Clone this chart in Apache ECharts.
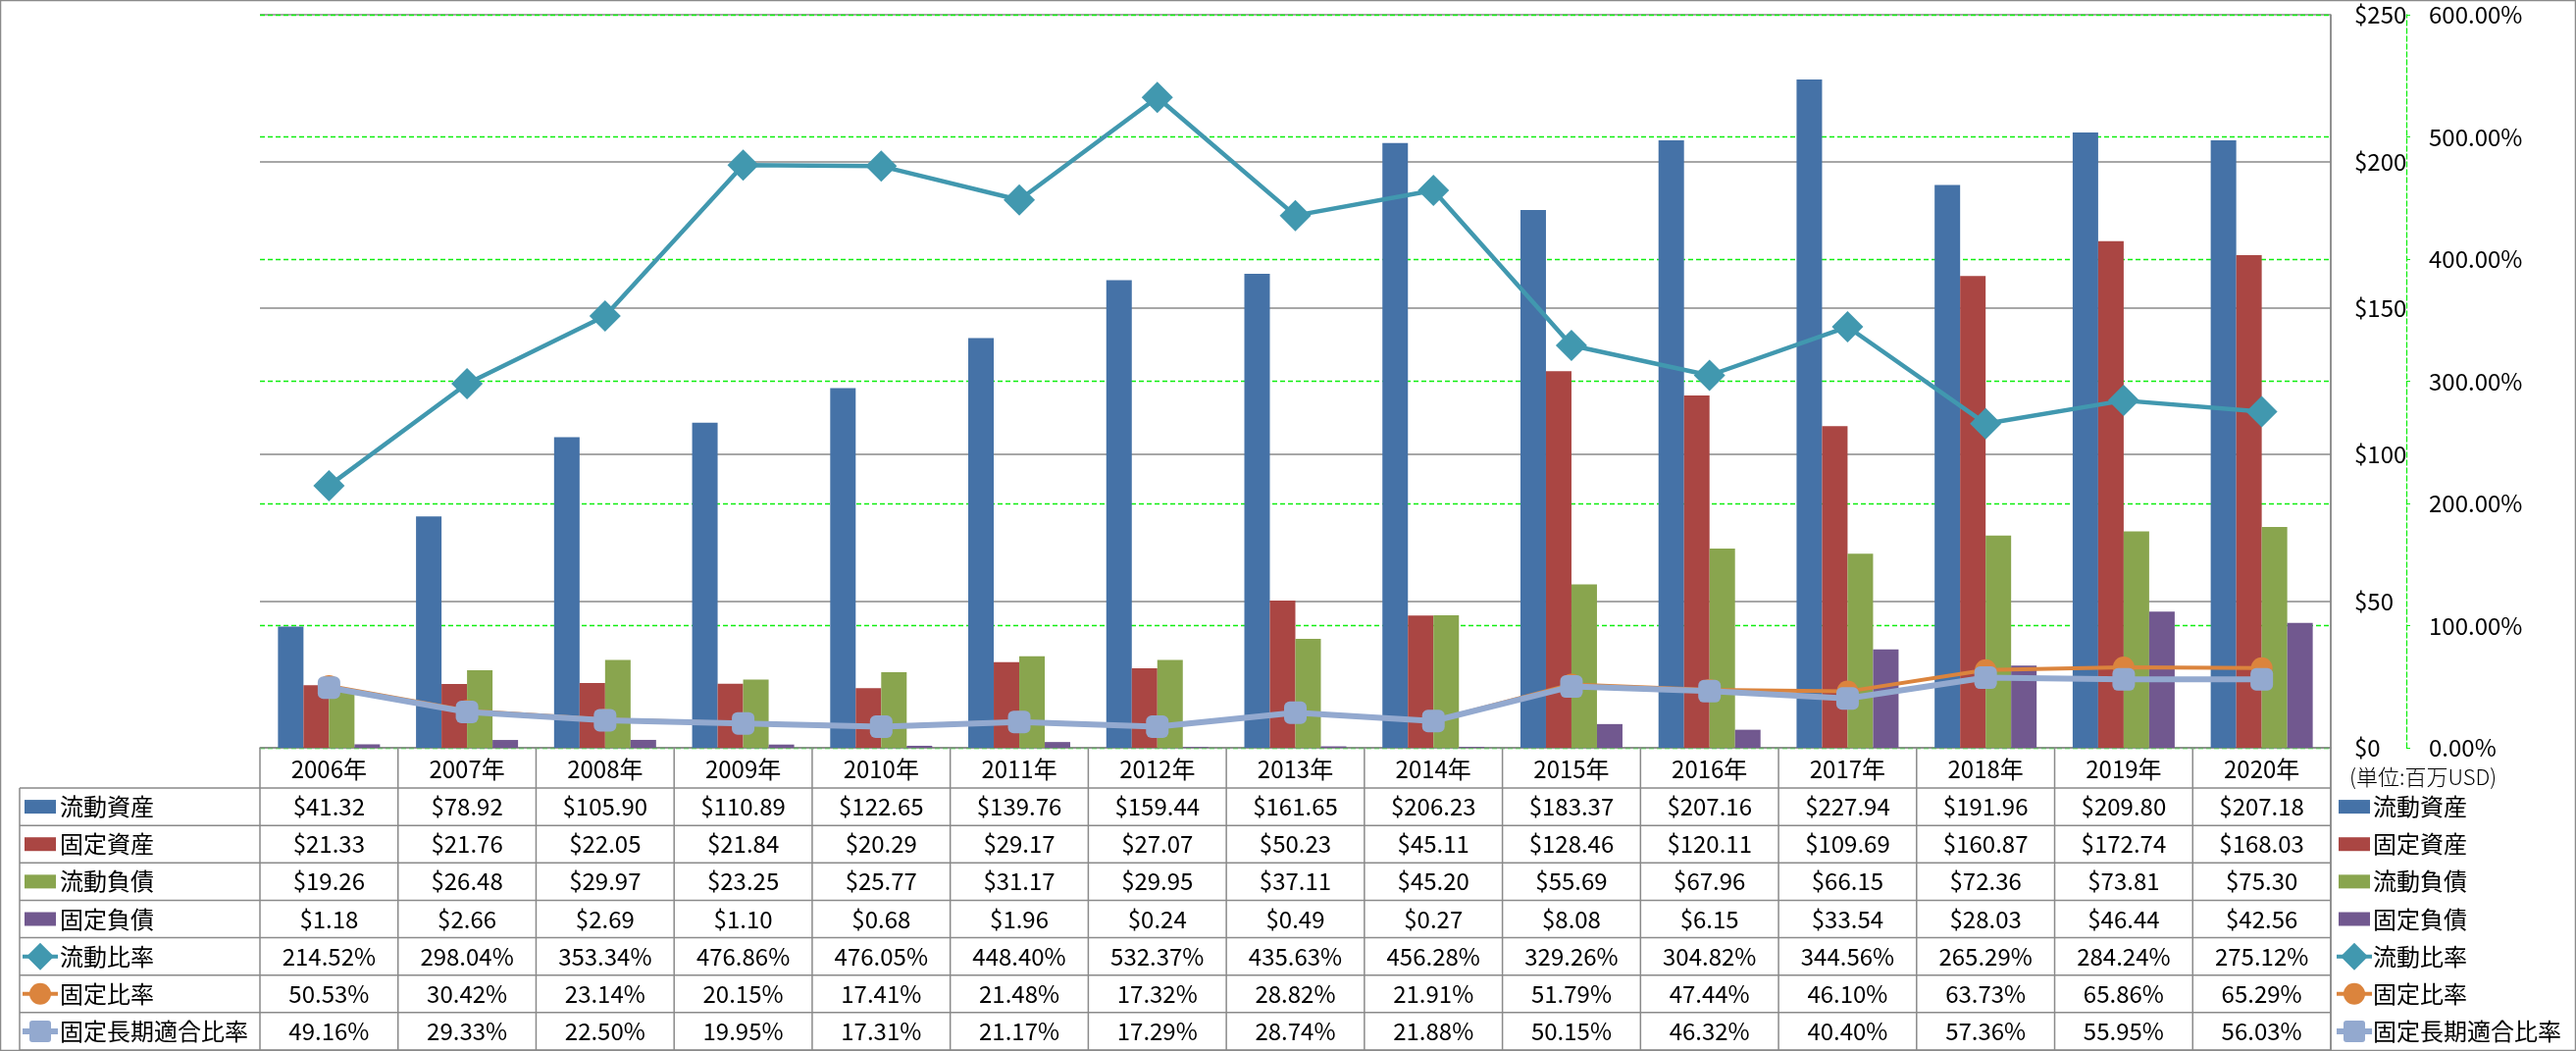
<!DOCTYPE html>
<html>
<head>
<meta charset="utf-8">
<script src="https://cdn.jsdelivr.net/npm/echarts@6/dist/echarts.min.js"></script>
<style>
html,body{margin:0;padding:0;background:#fff;}
#c{width:2626px;height:1071px;}
</style>
</head>
<body>
<div id="c"></div>
<script>
// ---- data ----
const years = ['2006年','2007年','2008年','2009年','2010年','2011年','2012年','2013年','2014年','2015年','2016年','2017年','2018年','2019年','2020年'];
const currentAssets = [41.32,78.92,105.90,110.89,122.65,139.76,159.44,161.65,206.23,183.37,207.16,227.94,191.96,209.80,207.18];
const fixedAssets = [21.33,21.76,22.05,21.84,20.29,29.17,27.07,50.23,45.11,128.46,120.11,109.69,160.87,172.74,168.03];
const currentLiabilities = [19.26,26.48,29.97,23.25,25.77,31.17,29.95,37.11,45.20,55.69,67.96,66.15,72.36,73.81,75.30];
const fixedLiabilities = [1.18,2.66,2.69,1.10,0.68,1.96,0.24,0.49,0.27,8.08,6.15,33.54,28.03,46.44,42.56];
const currentRatio = [214.52,298.04,353.34,476.86,476.05,448.40,532.37,435.63,456.28,329.26,304.82,344.56,265.29,284.24,275.12];
const fixedRatio = [50.53,30.42,23.14,20.15,17.41,21.48,17.32,28.82,21.91,51.79,47.44,46.10,63.73,65.86,65.29];
const fixedLongTermRatio = [49.16,29.33,22.50,19.95,17.31,21.17,17.29,28.74,21.88,50.15,46.32,40.40,57.36,55.95,56.03];
const usdTicks = [0,50,100,150,200,250];
const pctTicks = [0,100,200,300,400,500,600];
const unitLabel = '(単位:百万USD)';

// ---- styles ----
const COL = {
  blue:'#4572A7', red:'#AA4643', green:'#89A54E', purple:'#71588F',
  teal:'#4198AF', orange:'#DB843D', lightblue:'#93A9CF'
};
const FONT = '"Noto Sans CJK JP", "Noto Sans", sans-serif';
const GRID = {left:265, right:250, top:15, bottom:309};
const GRID_LINE = '#8a8a8a';
const GREEN = '#11ee11';

const chart = echarts.init(document.getElementById('c'), null, {renderer:'canvas'});

const barBase = {type:'bar', barWidth:26, barGap:'0%', yAxisIndex:0, xAxisIndex:0};
const option = {
  animation:false,
  backgroundColor:'#fff',
  grid:{left:GRID.left, right:GRID.right, top:GRID.top, bottom:GRID.bottom, containLabel:false},
  xAxis:{
    type:'category', data:years,
    axisLine:{show:true, lineStyle:{color:GRID_LINE, width:1.5}},
    axisTick:{show:false}, axisLabel:{show:false}, splitLine:{show:false}
  },
  yAxis:[
    {
      type:'value', position:'right', min:usdTicks[0], max:usdTicks[usdTicks.length-1], interval:50,
      axisLine:{show:true, lineStyle:{color:GRID_LINE, width:1.5}},
      axisTick:{show:false},
      axisLabel:{margin:24, color:'#000', fontSize:24, fontFamily:FONT, align:'left',
        formatter:v=>'$'+v},
      splitLine:{show:true, lineStyle:{color:GRID_LINE, width:1.5}}
    },
    {
      type:'value', position:'right', offset:77, min:pctTicks[0], max:pctTicks[pctTicks.length-1], interval:100,
      axisLine:{show:true, lineStyle:{color:GREEN, width:1.3, type:[5,3]}},
      axisTick:{show:true, length:4, lineStyle:{color:GREEN}},
      axisLabel:{margin:23, color:'#000', fontSize:24, fontFamily:FONT, align:'left',
        formatter:v=>v.toFixed(2)+'%'},
      splitLine:{show:true, lineStyle:{color:GREEN, width:1.3, type:[5,3]}}
    }
  ],
  series:[
    Object.assign({}, barBase, {name:'流動資産', data:currentAssets, itemStyle:{color:COL.blue}}),
    Object.assign({}, barBase, {name:'固定資産', data:fixedAssets, itemStyle:{color:COL.red}}),
    Object.assign({}, barBase, {name:'流動負債', data:currentLiabilities, itemStyle:{color:COL.green}}),
    Object.assign({}, barBase, {name:'固定負債', data:fixedLiabilities, itemStyle:{color:COL.purple}}),
    {type:'line', name:'流動比率', yAxisIndex:1, data:currentRatio, symbol:'diamond', symbolSize:32,
      lineStyle:{color:COL.teal, width:4.5}, itemStyle:{color:COL.teal}, z:5},
    {type:'line', name:'固定比率', yAxisIndex:1, data:fixedRatio, symbol:'circle', symbolSize:22,
      lineStyle:{color:COL.orange, width:4}, itemStyle:{color:COL.orange}, z:6},
    {type:'line', name:'固定長期適合比率', yAxisIndex:1, data:fixedLongTermRatio, symbol:'roundRect', symbolSize:23,
      lineStyle:{color:COL.lightblue, width:6}, itemStyle:{color:COL.lightblue}, z:7}
  ]
};
chart.setOption(option);

// ---- data table below the plot (built from the same arrays) ----
const rowsDef = [
  {name:'流動資産', data:currentAssets, fmt:'usd', key:'bar', color:COL.blue},
  {name:'固定資産', data:fixedAssets, fmt:'usd', key:'bar', color:COL.red},
  {name:'流動負債', data:currentLiabilities, fmt:'usd', key:'bar', color:COL.green},
  {name:'固定負債', data:fixedLiabilities, fmt:'usd', key:'bar', color:COL.purple},
  {name:'流動比率', data:currentRatio, fmt:'pct', key:'diamond', color:COL.teal},
  {name:'固定比率', data:fixedRatio, fmt:'pct', key:'circle', color:COL.orange},
  {name:'固定長期適合比率', data:fixedLongTermRatio, fmt:'pct', key:'square', color:COL.lightblue}
];

function buildTable(){
  const W = 2626, H = 1071;
  const x0 = chart.convertToPixel({xAxisIndex:0}, 0);
  const x1 = chart.convertToPixel({xAxisIndex:0}, 1);
  const band = x1 - x0;
  const left = x0 - band/2;
  const right = left + band*years.length;
  const top = chart.convertToPixel({yAxisIndex:0}, 0);
  const plotTop = chart.convertToPixel({yAxisIndex:0}, usdTicks[usdTicks.length-1]);
  const headerH = 41;
  const tableBottom = H - 1;
  const rowTop = top + headerH;
  const rowH = (tableBottom - rowTop) / rowsDef.length;
  const labelLeft = 20;
  const els = [];
  const ls = {stroke:GRID_LINE, lineWidth:1.5};
  const txt = (text, x, y, align, extra) => ({
    type:'text', silent:true, z:50,
    style:Object.assign({text, x, y, fill:'#000', font:'24px '+FONT,
      textAlign:align, textVerticalAlign:'middle', align:align, verticalAlign:'middle'}, extra||{})
  });
  // outer chart border
  els.push({type:'rect', silent:true, z:40, shape:{x:0.5, y:0.5, width:W-1, height:H-1}, style:{fill:null, stroke:GRID_LINE, lineWidth:1.5}});
  // horizontal lines
  for (let r=0; r<=rowsDef.length; r++){
    const y = rowTop + r*rowH;
    els.push({type:'line', silent:true, z:40, shape:{x1:labelLeft, y1:y, x2:right, y2:y}, style:ls});
  }
  // vertical lines
  for (let c=0; c<=years.length; c++){
    const x = left + c*band;
    els.push({type:'line', silent:true, z:40, shape:{x1:x, y1:top, x2:x, y2:tableBottom}, style:ls});
  }
  els.push({type:'line', silent:true, z:40, shape:{x1:right, y1:plotTop, x2:right, y2:tableBottom}, style:ls});
  els.push({type:'line', silent:true, z:40, shape:{x1:labelLeft, y1:rowTop, x2:labelLeft, y2:tableBottom}, style:ls});
  // header
  years.forEach((yr,i)=>{
    els.push(txt(yr, chart.convertToPixel({xAxisIndex:0}, i), top + headerH/2 + 1, 'center'));
  });
  // rows
  function key(row, kx, cy){
    if (row.key === 'bar'){
      els.push({type:'rect', silent:true, z:45, shape:{x:kx, y:cy-7, width:32, height:14}, style:{fill:row.color}});
    } else {
      els.push({type:'line', silent:true, z:45, shape:{x1:kx-2, y1:cy, x2:kx+34, y2:cy}, style:{stroke:row.color, lineWidth:row.key==='square'?6:4}});
      const mx = kx+16;
      if (row.key === 'diamond'){
        els.push({type:'polygon', silent:true, z:46, shape:{points:[[mx,cy-14],[mx+14,cy],[mx,cy+14],[mx-14,cy]]}, style:{fill:row.color}});
      } else if (row.key === 'circle'){
        els.push({type:'circle', silent:true, z:46, shape:{cx:mx, cy:cy, r:11}, style:{fill:row.color}});
      } else {
        els.push({type:'rect', silent:true, z:46, shape:{x:mx-11, y:cy-11, width:22, height:22, r:3}, style:{fill:row.color}});
      }
    }
  }
  rowsDef.forEach((row,r)=>{
    const cy = rowTop + r*rowH + rowH/2;
    key(row, 25, cy);
    els.push(txt(row.name, 61, cy, 'left'));
    row.data.forEach((v,i)=>{
      const s = row.fmt==='usd' ? '$'+v.toFixed(2) : v.toFixed(2)+'%';
      els.push(txt(s, chart.convertToPixel({xAxisIndex:0}, i), cy, 'center'));
    });
    // right-side legend
    key(row, right+8, cy);
    els.push(txt(row.name, right+43, cy, 'left'));
  });
  // unit label
  els.push(txt(unitLabel, right+19, top+30, 'left', {font:'300 22px '+FONT}));
  chart.setOption({graphic:{elements:els}});
}
buildTable();
</script>
</body>
</html>
